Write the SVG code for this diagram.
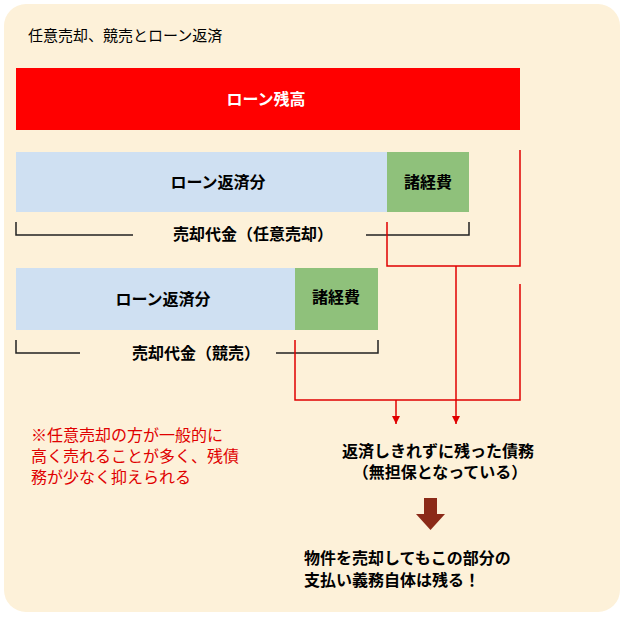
<svg xmlns="http://www.w3.org/2000/svg" width="628" height="621" viewBox="0 0 628 621">
<style>
text{font-family:"Liberation Sans","Noto Sans CJK JP",sans-serif}
.b{font-weight:bold;font-size:16px;fill:#000}
.blue{fill:#cfe0f2}
.green{fill:#8fc17b}
.br{fill:none;stroke:#222;stroke-width:1.5}
.rl{fill:none;stroke:#e00000;stroke-width:1.5}
.note{font-size:16px;fill:#e00000}
</style>
<defs><marker id="ah" markerWidth="10" markerHeight="10" refX="8" refY="5" orient="auto" markerUnits="userSpaceOnUse"><path d="M0,1 L8,5 L0,9 Z" fill="#e00000"/></marker></defs>
<rect x="4" y="4" width="616" height="608" rx="22" fill="#fdf1d9"/>
<text x="28" y="41" font-size="15" fill="#000">任意売却、競売とローン返済</text>
<g id="loan"><rect x="16" y="68" width="504" height="62" fill="#ff0000"/><text x="266" y="105" class="b" style="fill:#fff" text-anchor="middle">ローン残高</text></g>
<g id="repay1"><rect class="blue" x="16" y="152" width="371" height="60"/><text class="b" x="218" y="188" text-anchor="middle">ローン返済分</text></g>
<g id="cost1"><rect class="green" x="387" y="152" width="82" height="60"/><text class="b" x="428" y="188" text-anchor="middle">諸経費</text></g>
<g id="price1"><path class="br" d="M16,222 V235 H133 M366,235 H469 V222"/><text class="b" x="253" y="240" text-anchor="middle">売却代金（任意売却）</text></g>
<g id="repay2"><rect class="blue" x="16" y="268" width="279" height="62"/><text class="b" x="163" y="305" text-anchor="middle">ローン返済分</text></g>
<g id="cost2"><rect class="green" x="295" y="268" width="83" height="62"/><text class="b" x="336" y="303" text-anchor="middle">諸経費</text></g>
<g id="price2"><path class="br" d="M16,340 V353 H80 M276,353 H378 V340"/><text class="b" x="196" y="359" text-anchor="middle">売却代金（競売）</text></g>
<g id="connectors">
<path class="rl" d="M387,222 V266 H520 V150"/>
<path class="rl" d="M295,340 V400 H520 V284"/>
<path class="rl" d="M456,266 V424" marker-end="url(#ah)"/>
<path class="rl" d="M396,400 V424" marker-end="url(#ah)"/>
<path d="M424,498 H437 V514 H445 L430.5,530 L416,514 H424 Z" fill="#8b2a18"/>
</g>
<g id="note"><text class="note" x="31" y="441">※任意売却の方が一般的に</text><text class="note" x="31" y="462">高く売れることが多く、残債</text><text class="note" x="31" y="483">務が少なく抑えられる</text></g>
<g id="debt"><text class="b" x="438" y="457" text-anchor="middle">返済しきれずに残った債務</text><text class="b" x="440" y="478" text-anchor="middle">（無担保となっている）</text></g>
<g id="result"><text class="b" x="304" y="564">物件を売却してもこの部分の</text><text class="b" x="304" y="586">支払い義務自体は残る！</text></g>
</svg>
